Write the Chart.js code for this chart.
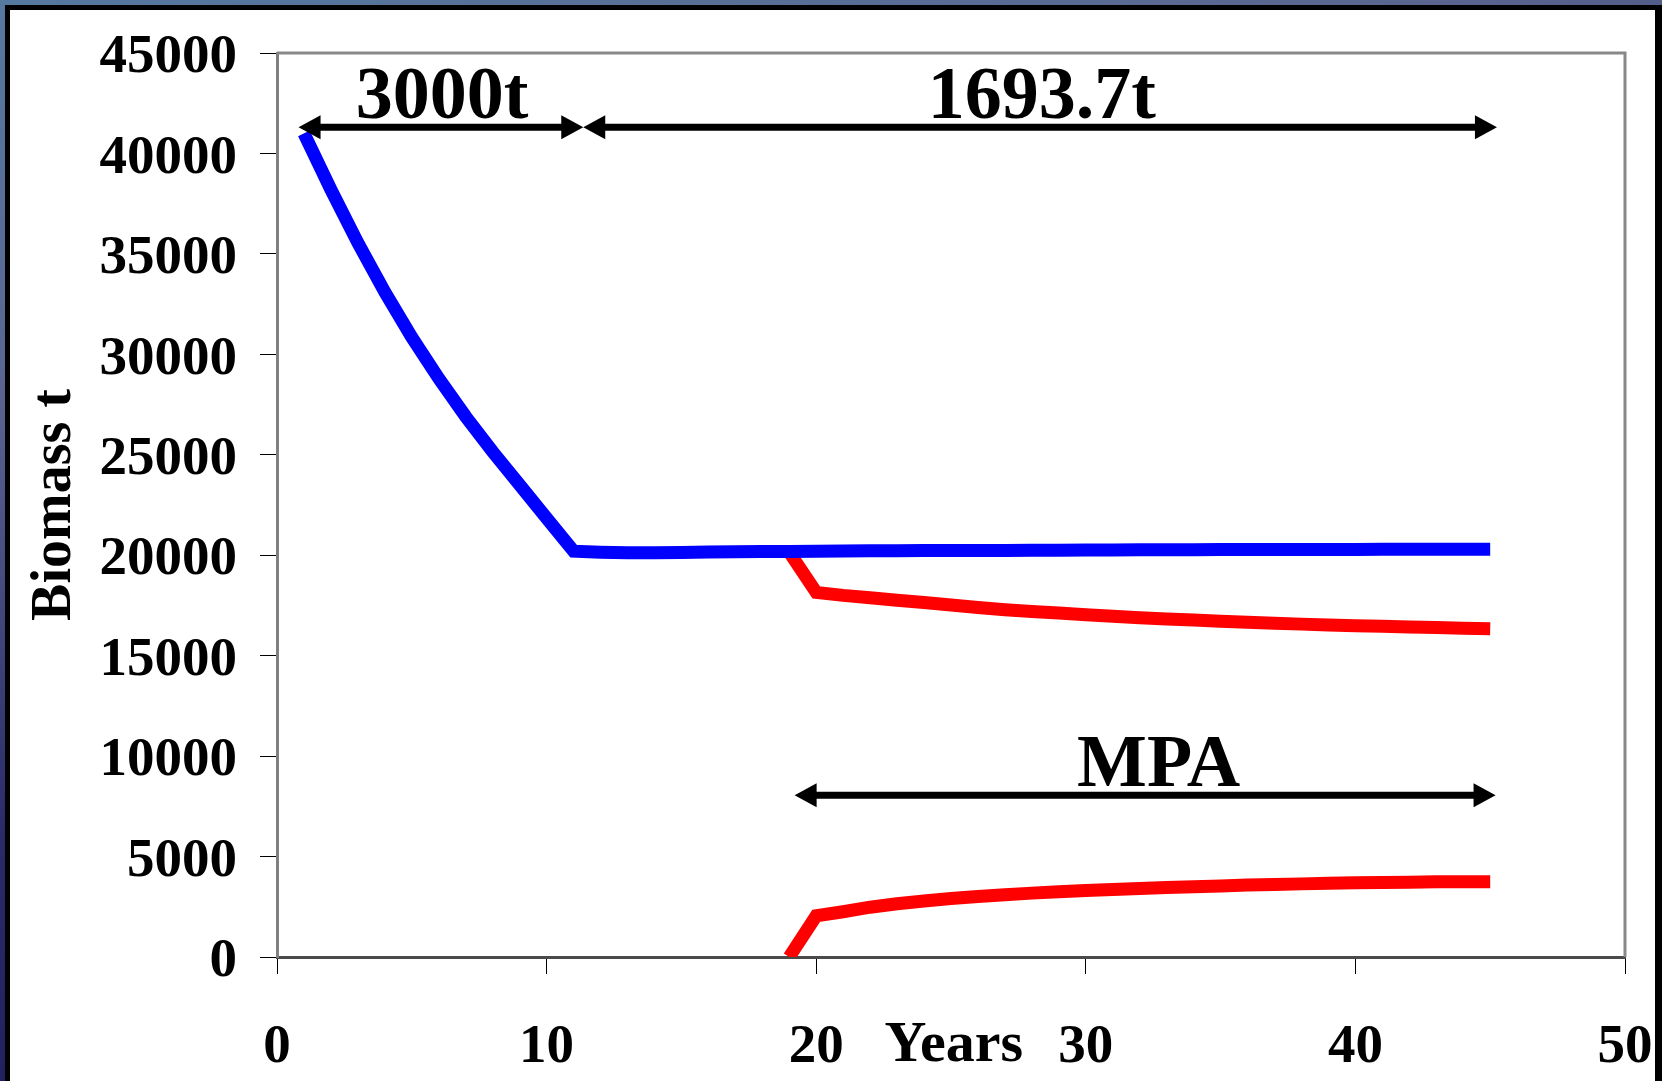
<!DOCTYPE html>
<html>
<head>
<meta charset="utf-8">
<title>Biomass t</title>
<script src="https://cdn.jsdelivr.net/npm/chart.js@4.4.1/dist/chart.umd.min.js"></script>
<style>
  html, body { margin: 0; padding: 0; width: 1662px; height: 1081px; overflow: hidden; }
  body {
    position: relative;
    background: linear-gradient(165deg, #56799f 0%, #5a6690 25%, #2a2a68 55%, #151250 100%);
  }
  #frame {
    position: absolute; left: 5px; top: 5px;
    width: 1645px; height: 1100px;
    background: #fff;
    border: 5px solid #000; border-right-width: 7px;
  }
  #chart { position: absolute; left: 0; top: 0; }
</style>
</head>
<body>
<div id="frame"></div>
<canvas id="chart" width="1662" height="1081"></canvas>
<script>
// ─── Data ───────────────────────────────────────────────────────────────────
const years = [1, 2, 3, 4, 5, 6, 7, 8, 9, 10, 11, 12, 13, 14, 15, 16, 17, 18, 19, 20,
  21, 22, 23, 24, 25, 26, 27, 28, 29, 30, 31, 32, 33, 34, 35, 36, 37, 38, 39, 40,
  41, 42, 43, 44, 45];
// blue: whole stock, fished
const biomassTotal = [41000, 38200, 35550, 33100, 30850, 28800, 26900, 25150, 23500, 21850,
  20200, 20150, 20120, 20120, 20140, 20160, 20170, 20180, 20190, 20200,
  20210, 20220, 20220, 20230, 20230, 20240, 20240, 20250, 20250, 20260,
  20260, 20270, 20270, 20270, 20280, 20280, 20280, 20290, 20290, 20290,
  20300, 20300, 20300, 20300, 20300];

// red: after the MPA is set up in year 19
const mpaYears = [19, 20, 21, 22, 23, 24, 25, 26, 27, 28, 29, 30, 31, 32, 33, 34, 35,
  36, 37, 38, 39, 40, 41, 42, 43, 44, 45];
const biomassOutside = [20150, 18150, 18000, 17880, 17760, 17650, 17520, 17400, 17290, 17200,
  17120, 17040, 16960, 16890, 16830, 16770, 16710, 16660, 16610, 16570,
  16530, 16490, 16460, 16430, 16400, 16370, 16340];
const biomassInside = [0, 2050, 2250, 2480, 2650, 2790, 2910, 3010, 3100, 3180,
  3250, 3310, 3360, 3410, 3460, 3500, 3540, 3580, 3610, 3640,
  3670, 3690, 3710, 3720, 3740, 3750, 3750];

// axes
const xMin = 0, xMax = 50, xStep = 10;
const yMin = 0, yMax = 45000, yStep = 5000;

// double arrows + their labels (data units)
const arrowLabels = ['3000t', '1693.7t', 'MPA'];
const arrowFrom = [0.8, 11.36, 19.2];
const arrowTo = [11.36, 45.25, 45.2];
const arrowLevel = [41300, 41300, 8050];
const labelYear = [6.12, 28.37, 32.7];
const labelLevel = [41750, 41750, 8520];

const xTitle = 'Years';
const xTitleYear = 25.1;
const yTitle = 'Biomass t';

// ─── Styles ─────────────────────────────────────────────────────────────────
const FONT = "'Liberation Serif', 'Times New Roman', serif";
const BLUE = '#0000ff';
const RED = '#ff0000';

const toPoints = (xs, ys) => xs.map((v, i) => ({ x: v, y: ys[i] }));

// arrows, the gray box sides and the "Years" label
const annotations = {
  id: 'annotations',
  afterDatasetsDraw(chart) {
    const { ctx, chartArea, scales: { x, y } } = chart;
    ctx.save();

    // gray top/right sides of the plot box
    ctx.strokeStyle = '#888';
    ctx.lineWidth = 3;
    ctx.beginPath();
    ctx.moveTo(chartArea.left, chartArea.top);
    ctx.lineTo(chartArea.right, chartArea.top);
    ctx.lineTo(chartArea.right, chartArea.bottom);
    ctx.stroke();

    const head = 22, half = 12;
    ctx.fillStyle = '#000';
    ctx.strokeStyle = '#000';
    ctx.lineWidth = 7;
    arrowLabels.forEach((label, i) => {
      const x1 = x.getPixelForValue(arrowFrom[i]);
      const x2 = x.getPixelForValue(arrowTo[i]);
      const yy = y.getPixelForValue(arrowLevel[i]);
      ctx.beginPath();
      ctx.moveTo(x1 + head - 2, yy);
      ctx.lineTo(x2 - head + 2, yy);
      ctx.stroke();
      ctx.beginPath();
      ctx.moveTo(x1, yy);
      ctx.lineTo(x1 + head, yy - half);
      ctx.lineTo(x1 + head, yy + half);
      ctx.closePath();
      ctx.fill();
      ctx.beginPath();
      ctx.moveTo(x2, yy);
      ctx.lineTo(x2 - head, yy - half);
      ctx.lineTo(x2 - head, yy + half);
      ctx.closePath();
      ctx.fill();

      ctx.font = `bold 74px ${FONT}`;
      ctx.textAlign = 'center';
      ctx.textBaseline = 'alphabetic';
      ctx.fillText(label, x.getPixelForValue(labelYear[i]), y.getPixelForValue(labelLevel[i]));
    });

    // x title sits in the tick label row, between 20 and 30
    ctx.font = `bold 58px ${FONT}`;
    ctx.textAlign = 'center';
    ctx.textBaseline = 'alphabetic';
    ctx.fillText(xTitle, x.getPixelForValue(xTitleYear), chartArea.bottom + 104);
    ctx.restore();
  }
};

const tickFont = { family: FONT, size: 55, weight: 'bold' };

new Chart(document.getElementById('chart'), {
  type: 'line',
  data: {
    datasets: [
      { data: toPoints(years, biomassTotal), borderColor: BLUE },
      { data: toPoints(mpaYears, biomassOutside), borderColor: RED },
      { data: toPoints(mpaYears, biomassInside), borderColor: RED }
    ]
  },
  options: {
    responsive: false,
    animation: false,
    events: [],
    layout: { padding: { left: 10, top: 53, right: 37, bottom: 0 } },
    elements: {
      line: { borderWidth: 13, tension: 0, fill: false, borderJoinStyle: 'miter', borderCapStyle: 'butt' },
      point: { radius: 0 }
    },
    plugins: { legend: { display: false }, tooltip: { enabled: false } },
    scales: {
      x: {
        type: 'linear',
        min: xMin, max: xMax,
        afterFit: (s) => { s.height = 124; s.paddingLeft = 0; s.paddingRight = 0; },
        ticks: { stepSize: xStep, color: '#000', font: tickFont, padding: 41, maxRotation: 0 },
        grid: { drawOnChartArea: false, drawTicks: true, tickLength: 17, color: '#000', lineWidth: 1 },
        border: { display: true, color: '#4a4a4a', width: 3 }
      },
      y: {
        type: 'linear',
        min: yMin, max: yMax,
        afterFit: (s) => { s.width = 267; s.paddingTop = 0; s.paddingBottom = 0; },
        ticks: { stepSize: yStep, color: '#000', font: tickFont, padding: 23, labelOffset: 5, callback: (v) => String(v) },
        grid: { drawOnChartArea: false, drawTicks: true, tickLength: 17, color: '#000', lineWidth: 1 },
        border: { display: true, color: '#808080', width: 3 },
        title: {
          display: true, text: yTitle, color: '#000',
          font: { family: FONT, size: 56, weight: 'bold' },
          padding: { top: 12, bottom: 8 }
        }
      }
    }
  },
  plugins: [annotations]
});
</script>
</body>
</html>
